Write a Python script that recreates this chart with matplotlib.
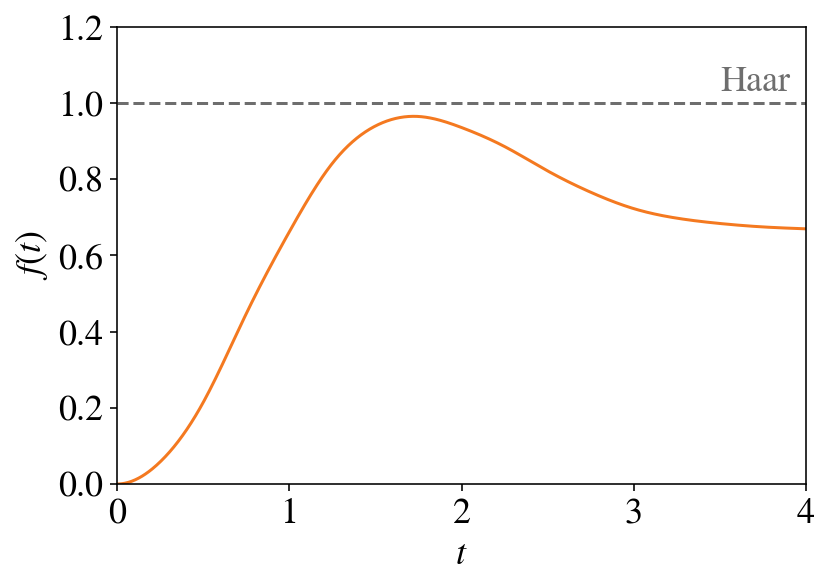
import matplotlib
matplotlib.use("Agg")
import matplotlib.pyplot as plt
import numpy as np

plt.rcParams['font.family'] = ['STIXGeneral', 'DejaVu Serif']
plt.rcParams['mathtext.fontset'] = 'stix'
plt.rcParams['font.size'] = 18

t_vals = [0.0, 0.25, 0.5, 0.75, 1.0, 1.25, 1.5, 1.75, 2.0, 2.25, 2.5,
          2.75, 3.0, 3.25, 3.5, 3.75, 4.0]
f_vals = [0.0, 0.058, 0.214, 0.447, 0.662, 0.842, 0.940, 0.965, 0.936, 0.886, 0.822,
          0.766, 0.723, 0.698, 0.684, 0.675, 0.670]
haar_level = 1.0
haar_label = "Haar"
x_ticks = [0, 1, 2, 3, 4]
y_ticks = [0.0, 0.2, 0.4, 0.6, 0.8, 1.0, 1.2]


def cubic_spline(x, y, xn):
    """Cubic spline: zero slope at start, natural at end."""
    x = np.asarray(x, float)
    y = np.asarray(y, float)
    n = len(x)
    h = np.diff(x)
    A = np.zeros((n, n))
    b = np.zeros(n)
    A[0, 0] = 2 * h[0]
    A[0, 1] = h[0]
    b[0] = 6 * ((y[1] - y[0]) / h[0] - 0.0)
    for i in range(1, n - 1):
        A[i, i - 1] = h[i - 1]
        A[i, i] = 2 * (h[i - 1] + h[i])
        A[i, i + 1] = h[i]
        b[i] = 6 * ((y[i + 1] - y[i]) / h[i] - (y[i] - y[i - 1]) / h[i - 1])
    A[-1, -1] = 1.0
    M = np.linalg.solve(A, b)
    idx = np.clip(np.searchsorted(x, xn) - 1, 0, n - 2)
    x0, x1 = x[idx], x[idx + 1]
    hh = x1 - x0
    a = (x1 - xn) / hh
    c = (xn - x0) / hh
    return (a * y[idx] + c * y[idx + 1]
            + ((a**3 - a) * M[idx] + (c**3 - c) * M[idx + 1]) * hh**2 / 6)


tn = np.linspace(0, 4, 800)
fn = cubic_spline(t_vals, f_vals, tn)

fig = plt.figure(figsize=(831 / 144, 586 / 144), dpi=144)
ax = fig.add_axes([0.1408, 0.174, 0.9700 - 0.1408, 0.954 - 0.174])
ax.axhline(haar_level, color='#6e6e6e', linestyle='--', linewidth=1.5)
ax.plot(tn, fn, color='#f47920', linewidth=1.5)
ax.text(3.91, haar_level + 0.012, haar_label, color='#6e6e6e', ha='right', va='bottom')
ax.set_xlim(0, 4)
ax.set_ylim(0, 1.2)
ax.set_xticks(x_ticks)
ax.set_yticks(y_ticks)
ax.set_yticklabels([f"{v:.1f}" for v in y_ticks])
ax.set_xlabel(r'$t$')
ax.set_ylabel(r'$f(t)$')
fig.savefig('out.png', dpi=144)
